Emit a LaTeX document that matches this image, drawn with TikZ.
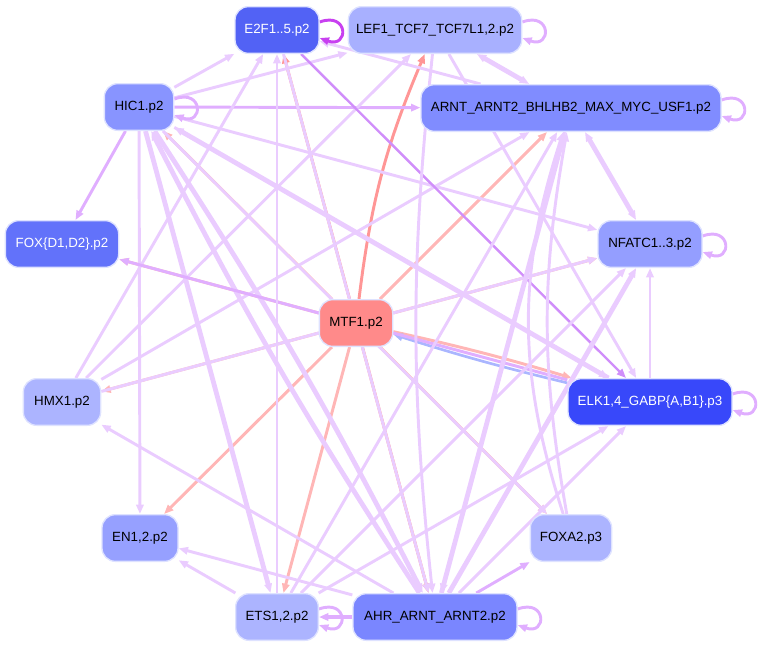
\documentclass[tikz,border=0pt]{standalone}
\usepackage{fontspec}
\setmainfont{Liberation Sans}
\usetikzlibrary{arrows.meta,backgrounds}

\definecolor{nodeline}{RGB}{222,226,255}
\definecolor{cE2F}{RGB}{82,98,245}
\definecolor{cLEF}{RGB}{168,176,255}
\definecolor{cHIC}{RGB}{136,148,255}
\definecolor{cARNT}{RGB}{128,140,255}
\definecolor{cFOXD}{RGB}{98,114,250}
\definecolor{cNFATC}{RGB}{148,158,255}
\definecolor{cMTF}{RGB}{255,138,138}
\definecolor{cHMX}{RGB}{172,180,255}
\definecolor{cELK}{RGB}{56,72,250}
\definecolor{cEN}{RGB}{150,160,255}
\definecolor{cFOXA}{RGB}{172,180,255}
\definecolor{cETS}{RGB}{172,180,255}
\definecolor{cAHR}{RGB}{122,134,255}
\definecolor{purL}{RGB}{234,204,255}
\definecolor{purM}{RGB}{224,174,255}
\definecolor{purD}{RGB}{208,142,250}
\definecolor{purX}{RGB}{200,64,240}
\definecolor{redL}{RGB}{255,182,182}
\definecolor{redD}{RGB}{255,150,150}
\definecolor{bluE}{RGB}{170,182,255}

\tikzset{
  tf/.style={rectangle, rounded corners=10pt, draw=nodeline, line width=1pt,
    inner sep=0pt, minimum height=35pt, font=\fontsize{10}{12}\selectfont},
  tip/.style={-{Triangle[length=7pt,width=5.5pt]}},
  both/.style={{Triangle[length=7pt,width=5.5pt]}-{Triangle[length=7pt,width=5.5pt]}},
  pl/.style={tip, draw=purL, line width=2.2pt},
  pm/.style={tip, draw=purM, line width=2.2pt},
  pd/.style={tip, draw=purD, line width=1.8pt},
  pw/.style={tip, draw=purL, line width=3.6pt},
  rl/.style={tip, draw=redL, line width=2.2pt},
  rd/.style={tip, draw=redD, line width=2.2pt},
  bl/.style={tip, draw=bluE, line width=2pt},
  selfloop/.style={out=20, in=-20, looseness=5}
}

\begin{document}
\begin{tikzpicture}[x=0.75pt,y=-0.75pt]
  \useasboundingbox (0,0) rectangle (762,647);

  %Nodes, circle round MTF1
  \node[tf,fill=cE2F,text=white,minimum width=63pt] (E2F) at (277,30) {E2F1..5.p2};
  \node[tf,fill=cLEF,minimum width=130pt] (LEF) at (435,30) {LEF1\_TCF7\_TCF7L1,2.p2};
  \node[tf,fill=cHIC,minimum width=52pt] (HIC) at (139,107) {HIC1.p2};
  \node[tf,fill=cARNT,minimum width=225pt] (ARNT) at (571,108) {ARNT\_ARNT2\_BHLHB2\_MAX\_MYC\_USF1.p2};
  \node[tf,fill=cFOXD,text=white,minimum width=85pt] (FOXD) at (62,244) {FOX\{D1,D2\}.p2};
  \node[tf,fill=cNFATC,minimum width=78pt] (NFATC) at (650,244) {NFATC1..3.p2};
  \node[tf,fill=cMTF,minimum width=55pt] (MTF) at (356,323) {MTF1.p2};
  \node[tf,fill=cHMX,minimum width=58pt] (HMX) at (62,402) {HMX1.p2};
  \node[tf,fill=cELK,text=white,minimum width=123pt] (ELK) at (650,402) {ELK1,4\_GABP\{A,B1\}.p3};
  \node[tf,fill=cEN,minimum width=57pt] (EN) at (140,538) {EN1,2.p2};
  \node[tf,fill=cFOXA,minimum width=61pt] (FOXA) at (571,538) {FOXA2.p3};
  \node[tf,fill=cETS,minimum width=62pt] (ETS) at (277,617) {ETS1,2.p2};
  \node[tf,fill=cAHR,minimum width=123pt] (AHR) at (435,617) {AHR\_ARNT\_ARNT2.p2};

  \begin{scope}[on background layer]
    %Edges out of MTF1
    \draw[rd] (MTF) -- (E2F);
    \draw[rd] (MTF) to[bend left=8] (LEF);
    \draw[rl] (MTF) -- (HIC);
    \draw[rl] (MTF) -- (ARNT);
    \draw[rl] (MTF) -- (FOXD);
    \draw[rl] (MTF) -- (NFATC);
    \draw[rl] (MTF) -- (HMX);
    \draw[rl] (MTF) to[bend left=2] (ELK);
    \draw[rl] (MTF) -- (EN);
    \draw[rl] (MTF) -- (FOXA);
    \draw[rl] (MTF) -- (ETS);
    \draw[rd] (MTF) -- (AHR);
    \draw[bl] (ELK) to[bend left=2] (MTF);

    %Edges between the other factors
    \draw[pm] (HIC) -- (FOXD);
    \draw[pl] (HIC) -- (E2F);
    \draw[pl] (HIC) -- (LEF);
    \draw[pm] (HIC) -- (ARNT);
    \draw[pl] (HIC) -- (NFATC);
    \draw[pl] (HIC) -- (ELK);
    \draw[pl] (HIC) -- (EN);
    \draw[pw] (HIC) -- (ETS);
    \draw[pl] (HIC) -- (FOXA);
    \draw[pw] (HIC) to[bend left=3] (AHR);
    \draw[pw] (AHR) to[bend left=3] (HIC);
    \draw[pw] (ELK) -- (HIC);
    \draw[pl] (HMX) -- (E2F);
    \draw[pl] (HMX) -- (LEF);
    \draw[pl] (HMX) -- (ARNT);
    \draw[pl] (HMX) -- (NFATC);
    \draw[pl] (AHR) -- (HMX);
    \draw[pl] (ARNT) -- (E2F);
    \draw[pw,both] (LEF) -- (ARNT);
    \draw[pw,both] (ARNT) -- (NFATC);
    \draw[pd] (E2F) -- (ELK);
    \draw[pl] (LEF) -- (ELK);
    \draw[pl] (ELK) -- (NFATC);
    \draw[pm] (ELK) -- (FOXD);
    \draw[pm,line width=3pt] (AHR) -- (ETS);
    \draw[pl] (AHR) -- (EN);
    \draw[pl] (ETS) -- (EN);
    \draw[pm] (AHR) -- (FOXA);
    \draw[pl] (AHR) -- (ELK);
    \draw[pl] (ETS) -- (ELK);
    \draw[pl] (ETS) -- (NFATC);
    \draw[pl] (ETS) -- (ARNT);
    \draw[pw] (AHR) -- (NFATC);
    \draw[pw] (AHR) -- (ARNT);
    \draw[pl] (FOXA) to[bend left=10] (ARNT);
    \draw[pl] (FOXA) to[bend left=18] (ARNT);
    \draw[pl] (ETS) -- (E2F);
    \draw[pl] (LEF) to[bend right=6] (AHR);
    \draw[pl] (ARNT) -- (AHR);
    \draw[pl] (E2F) -- (AHR);

    %Self loops
    \draw[tip, draw=purX, line width=2.2pt] ([yshift=6pt]E2F.east) to[selfloop] ([yshift=-6pt]E2F.east);
    \foreach \n in {LEF,ARNT,HIC,NFATC,ELK,ETS,AHR}
      \draw[pm] ([yshift=6pt]\n.east) to[selfloop] ([yshift=-6pt]\n.east);
  \end{scope}
\end{tikzpicture}
\end{document}
